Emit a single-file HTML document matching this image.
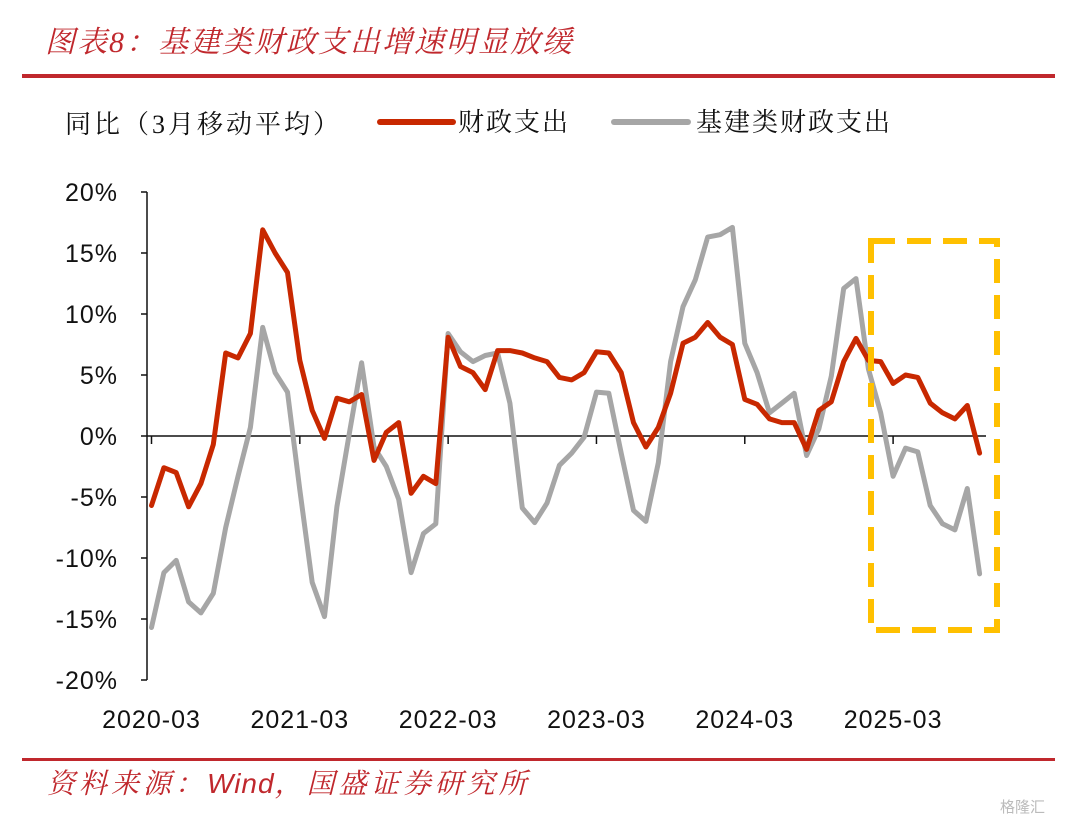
<!DOCTYPE html>
<html><head><meta charset="utf-8"><style>
html,body{margin:0;padding:0;background:#fff;width:1080px;height:830px;overflow:hidden}
svg{display:block}
</style></head><body>
<svg id="chart" width="1080" height="830" xmlns="http://www.w3.org/2000/svg">
<text x="45" y="52" font-size="30" font-style="italic" fill="#c0282d" letter-spacing="2" font-family="Liberation Serif, Noto Serif CJK SC, serif">图表8：基建类财政支出增速明显放缓</text>
<rect x="22" y="74" width="1033" height="4" fill="#c0282d"/>
<text x="65" y="133" font-size="26" fill="#111" letter-spacing="3" font-family="Liberation Serif, Noto Serif CJK SC, serif">同比（3月移动平均）</text>
<g>
<line x1="380" y1="122" x2="453" y2="122" stroke="#c82800" stroke-width="6" stroke-linecap="round"/>
<text x="458" y="131" font-size="26" fill="#111" letter-spacing="2" font-family="Liberation Serif, Noto Serif CJK SC, serif">财政支出</text>
</g>
<g>
<line x1="614" y1="122" x2="688" y2="122" stroke="#a6a6a6" stroke-width="6" stroke-linecap="round"/>
<text x="696" y="131" font-size="26" fill="#111" letter-spacing="2" font-family="Liberation Serif, Noto Serif CJK SC, serif">基建类财政支出</text>
</g>
<g id="axes"></g>
<g id="series"></g>
<rect x="871" y="241" width="126" height="389" fill="none" stroke="#ffc000" stroke-width="6" stroke-dasharray="24 12"/>
<rect x="22" y="758" width="1033" height="3" fill="#c0282d"/>
<text x="47" y="793" font-size="28" font-style="italic" fill="#c0282d" letter-spacing="4" font-family="Liberation Serif, Noto Serif CJK SC, serif">资料来源：<tspan font-family="Liberation Sans, sans-serif" letter-spacing="1">Wind</tspan>，国盛证券研究所</text>
<text x="1000" y="812" font-size="15" fill="#bbb" font-family="Liberation Sans, Noto Sans CJK SC, sans-serif">格隆汇</text>
</svg>
<script>
const yTicks=[20,15,10,5,0,-5,-10,-15,-20];
const xLabels=["2020-03","2021-03","2022-03","2023-03","2024-03","2025-03"];
const fiscal=[-5.7,-2.6,-3.0,-5.8,-3.9,-0.7,6.8,6.4,8.4,16.9,15.0,13.4,6.2,2.1,-0.2,3.1,2.8,3.4,-2.0,0.3,1.1,-4.7,-3.3,-3.9,8.1,5.7,5.2,3.8,7.0,7.0,6.8,6.4,6.1,4.8,4.6,5.2,6.9,6.8,5.2,1.1,-0.9,0.7,3.5,7.6,8.1,9.3,8.1,7.5,3.0,2.6,1.4,1.1,1.1,-1.1,2.1,2.8,6.1,8.0,6.2,6.1,4.3,5.0,4.8,2.7,1.9,1.4,2.5,-1.4];
const infra=[-15.7,-11.2,-10.2,-13.6,-14.5,-12.9,-7.5,-3.3,0.7,8.9,5.2,3.6,-4.4,-12.0,-14.8,-5.8,0.2,6.0,-0.9,-2.5,-5.2,-11.2,-8.0,-7.2,8.4,6.9,6.1,6.6,6.8,2.7,-5.9,-7.1,-5.5,-2.4,-1.4,-0.1,3.6,3.5,-1.4,-6.1,-7.0,-2.2,6.1,10.6,12.8,16.3,16.5,17.1,7.6,5.2,1.9,2.7,3.5,-1.6,0.6,4.9,12.1,12.9,5.5,1.9,-3.3,-1.0,-1.3,-5.7,-7.2,-7.7,-4.3,-11.3];
const NS='http://www.w3.org/2000/svg';
const yS=v=>436-v*12.2;
const xS=i=>151.5+i*12.36;
const axes=document.getElementById('axes'), series=document.getElementById('series');
function mk(tag,attrs,parent){const e=document.createElementNS(NS,tag);for(const k in attrs)e.setAttribute(k,attrs[k]);parent.appendChild(e);return e;}
const ya=mk('line',{x1:147,y1:yS(20),x2:147,y2:yS(-20),stroke:'#111','stroke-width':1.5},axes);


yTicks.forEach(v=>{
  const t=mk('line',{x1:141,y1:yS(v),x2:147,y2:yS(v),stroke:'#111','stroke-width':1.5},axes);
  
  
  const l=mk('text',{x:118,y:yS(v)+9,'font-size':25,'letter-spacing':1,'text-anchor':'end',fill:'#111','font-family':'Liberation Sans, sans-serif'},axes);
  l.textContent=v+'%';
  
  
});
const xa=mk('line',{x1:147,y1:yS(0),x2:986,y2:yS(0),stroke:'#111','stroke-width':1.5},axes);


xLabels.forEach((s,k)=>{
  const x=xS(k*12);
  const t=mk('line',{x1:x,y1:yS(0),x2:x,y2:yS(0)+8,stroke:'#111','stroke-width':1.5},axes);
  
  
  const l=mk('text',{x:x,y:728,'font-size':25,'letter-spacing':1,'text-anchor':'middle',fill:'#111','font-family':'Liberation Sans, sans-serif'},axes);
  l.textContent=s;
  
  
});
function line(arr,color){
  const d=arr.map((v,i)=>(i?'L':'M')+xS(i).toFixed(1)+','+yS(v).toFixed(1)).join('');
  return mk('path',{d:d,fill:'none',stroke:color,'stroke-width':5,'stroke-linejoin':'round','stroke-linecap':'round'},series);
}
const g=line(infra,'#a6a6a6');


const r=line(fiscal,'#c82800');


</script>
</body></html>
